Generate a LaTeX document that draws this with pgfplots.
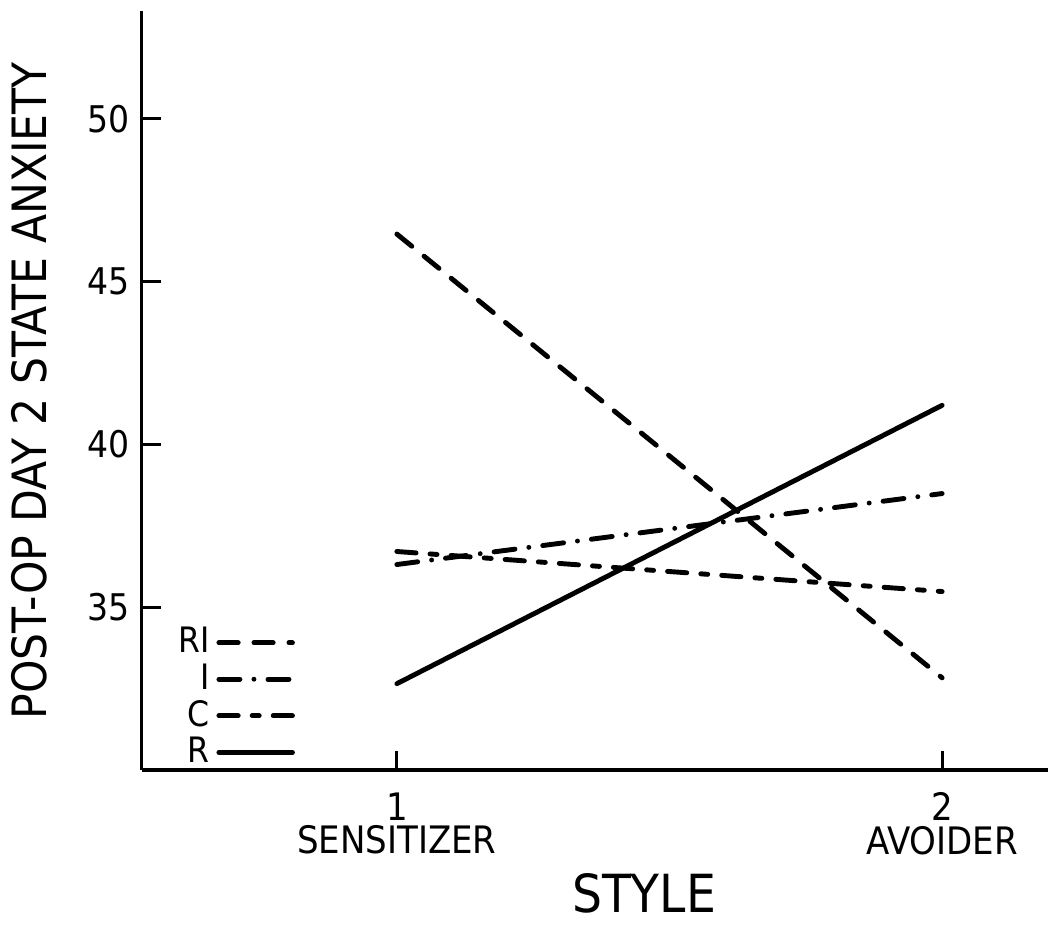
\documentclass[border=0pt]{standalone}
\usepackage{fontspec}
\setmainfont{DejaVu Sans Condensed}
\usepackage{pgfplots}
\pgfplotsset{compat=1.18}
\begin{document}
\begin{tikzpicture}
\begin{axis}[
  scale only axis,
  width=258.9pt, height=216.6pt,
  xmin=0.532, xmax=2.195, ymin=30, ymax=53.3,
  axis lines=left,
  axis line style={-, line width=0.9pt},
  xtick={1,2},
  xticklabels={{1\\SENSITIZER},{2\\AVOIDER}},
  xticklabel style={align=center, font=\fontsize{10.8}{9.5}\selectfont, yshift=-3pt},
  ytick={35,40,45,50},
  yticklabel style={font=\fontsize{10.5}{12}\selectfont},
  /pgf/number format/assume math mode=true,
  tick align=inside,
  major tick length=5.5pt,
  tick style={black, line width=0.9pt},
  xlabel={STYLE},
  xlabel style={font=\fontsize{15}{18}\selectfont, xshift=14pt, yshift=1.5pt},
  ylabel={POST-OP DAY 2 STATE ANXIETY},
  ylabel style={font=\fontsize{13.5}{16}\selectfont},
  ylabel shift=4.5pt,
  every axis plot/.append style={line width=1.4pt, line cap=round, black},
  legend plot pos=right,
  legend cell align=right,
  legend image code/.code={\draw[#1] (3pt,0pt) -- (24pt,0pt);},
  legend style={at={(0.028,-0.012)}, anchor=south west, draw=none, fill=none,
    font=\fontsize{10}{12}\selectfont, row sep=-2.4pt, inner sep=1pt},
]
% RI
\addplot[dash pattern=on 5.5pt off 4.5pt] coordinates {(1,46.46) (2,32.83)};
\addlegendentry{RI}
% I
\addplot[dash pattern=on 6pt off 4pt on 0pt off 4pt] coordinates {(1,36.31) (2,38.49)};
\addlegendentry{I}
% C
\addplot[dash pattern=on 5.5pt off 4pt on 2pt off 4pt] coordinates {(1,36.71) (2,35.48)};
\addlegendentry{C}
% R
\addplot[solid] coordinates {(1,32.65) (2,41.2)};
\addlegendentry{R}
\end{axis}
% white margin above and below, as in the reference
\path ([yshift=2.8pt]current bounding box.north);
\path ([yshift=-4.8pt]current bounding box.south);
\end{tikzpicture}
\end{document}
